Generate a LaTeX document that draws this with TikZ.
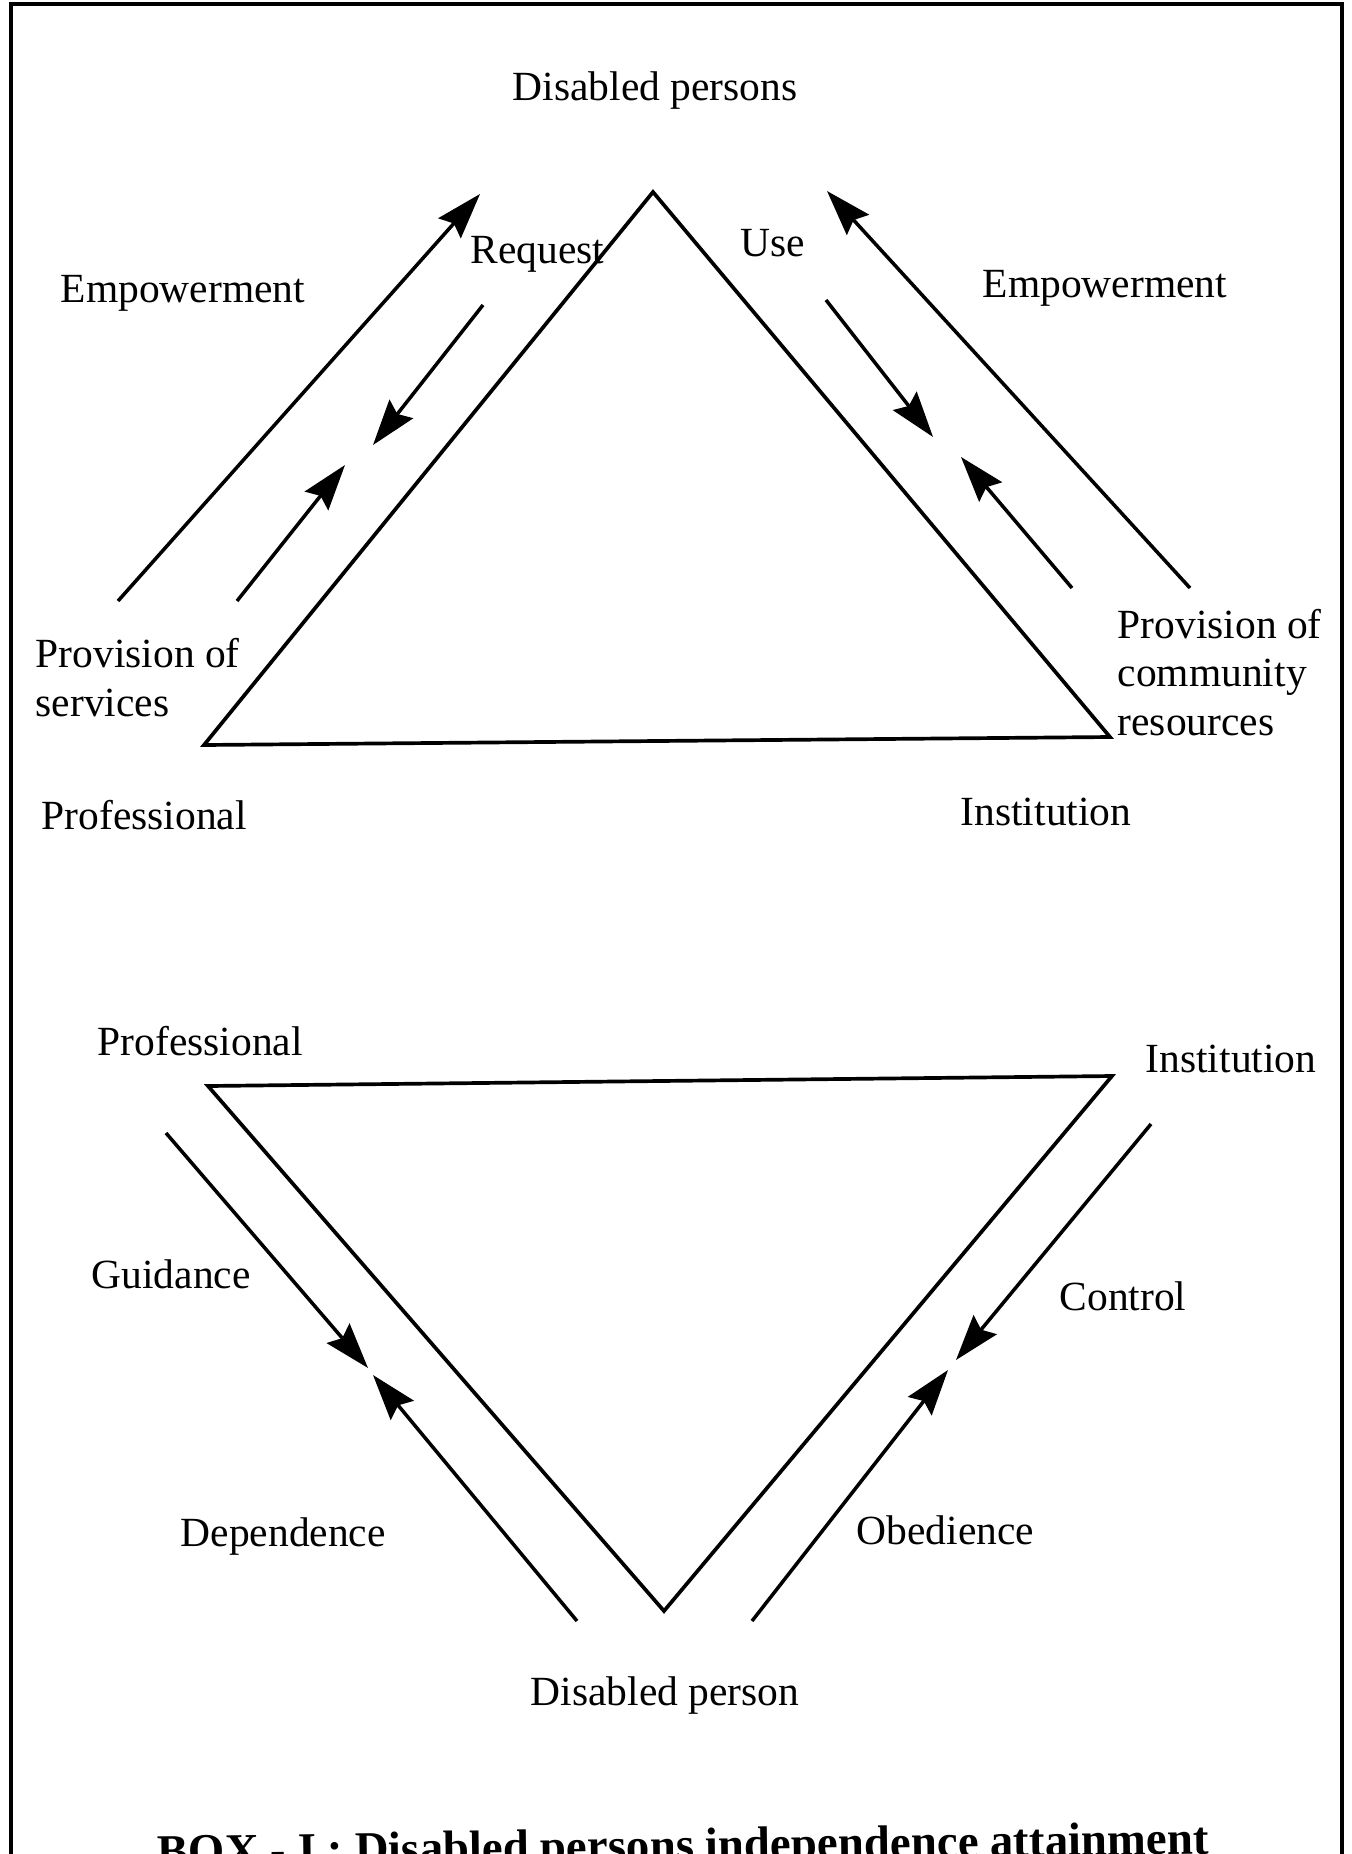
\documentclass[tikz,border=0pt]{standalone}
\usepackage{fontspec}
\setmainfont{Liberation Serif}
\usetikzlibrary{arrows.meta}
\begin{document}
\begin{tikzpicture}[x=0.01cm,y=-0.01cm,
  lbl/.style={anchor=base west, inner sep=0pt, align=left,
              font=\fontsize{11.8}{13.7}\selectfont},
  caption/.style={anchor=base west, inner sep=0pt,
              font=\fontsize{13.3}{15}\selectfont\bfseries},
  side/.style={line width=1.05pt, line join=miter},
  flow/.style={line width=1pt,
              -{Stealth[length=13pt,width=8.5pt,inset=1.8pt]}},
]
\useasboundingbox (0,0) rectangle (1352,1854);
\clip (0,0) rectangle (1352,1854);

% outer frame, open at the bottom edge of the page
\draw[line width=1.3pt] (11,1900) -- (11,4) -- (1342,4) -- (1342,1900);

% ---------- upper triangle ----------
\coordinate (tA) at (653,192);
\coordinate (tL) at (204,745);
\coordinate (tR) at (1110,737);
\draw[side] (tA) -- (tL) -- (tR) -- cycle;

% left side flows
\coordinate (eL1) at (118,601);  \coordinate (eL2) at (480,194);
\coordinate (rq1) at (483,305);  \coordinate (rq2) at (373,445);
\coordinate (ps1) at (237,601);  \coordinate (ps2) at (345,465);
\draw[flow] (eL1) -- (eL2);
\draw[flow] (rq1) -- (rq2);
\draw[flow] (ps1) -- (ps2);

% right side flows
\coordinate (eR1) at (1190,588); \coordinate (eR2) at (827,191);
\coordinate (us1) at (826,300);  \coordinate (us2) at (933,437);
\coordinate (pc1) at (1072,588); \coordinate (pc2) at (961,457);
\draw[flow] (eR1) -- (eR2);
\draw[flow] (us1) -- (us2);
\draw[flow] (pc1) -- (pc2);

% upper labels (multi-line labels sit on the baseline of their last line)
\node[lbl] (dps)  at (512,100)  {Disabled persons};
\node[lbl] (empL) at (60,302)   {Empowerment};
\node[lbl] (req)  at (470,263)  {Request};
\node[lbl] (use)  at (740,256)  {Use};
\node[lbl] (empR) at (982,297)  {Empowerment};
\node[lbl] (pos)  at (35,716)   {Provision of\\services};
\node[lbl] (pcr)  at (1117,735) {Provision of\\community\\resources};
\node[lbl] (prfU) at (41,829)   {Professional};
\node[lbl] (insU) at (960,825)  {Institution};

% ---------- lower triangle ----------
\coordinate (bL) at (208,1086);
\coordinate (bR) at (1112,1076);
\coordinate (bB) at (664,1611);
\draw[side] (bL) -- (bR) -- (bB) -- cycle;

\coordinate (gd1) at (166,1133);  \coordinate (gd2) at (368,1368);
\coordinate (dp1) at (577,1621);  \coordinate (dp2) at (373,1375);
\coordinate (ct1) at (1151,1124); \coordinate (ct2) at (956,1360);
\coordinate (ob1) at (752,1621);  \coordinate (ob2) at (948,1370);
\draw[flow] (gd1) -- (gd2);
\draw[flow] (dp1) -- (dp2);
\draw[flow] (ct1) -- (ct2);
\draw[flow] (ob1) -- (ob2);

% lower labels
\node[lbl] (prfL) at (97,1055)   {Professional};
\node[lbl] (insL) at (1145,1072) {Institution};
\node[lbl] (gui)  at (91,1288)   {Guidance};
\node[lbl] (ctl)  at (1059,1310) {Control};
\node[lbl] (dep)  at (180,1546)  {Dependence};
\node[lbl] (obe)  at (856,1544)  {Obedience};
\node[lbl] (dp)   at (530,1705)  {Disabled person};

% caption running off the lower page edge
\node[caption, rotate=0.7] (cap) at (157,1867)
  {BOX - I : Disabled persons independence attainment};
\end{tikzpicture}
\end{document}
